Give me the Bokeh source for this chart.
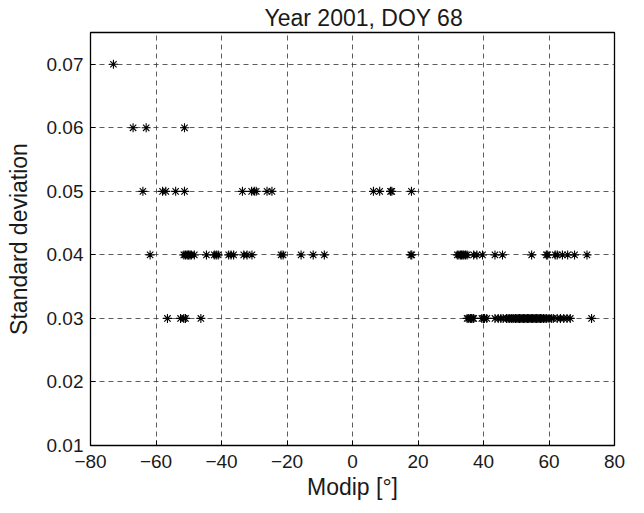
from bokeh.plotting import figure
from bokeh.models import FixedTicker, Range1d, CustomJSTickFormatter
from bokeh.embed import file_html
from bokeh.resources import INLINE

# Data (Modip in degrees, standard deviation)
modip_007 = [-73]
modip_006 = [-67, -63, -51.3]
modip_005 = [-64, -58, -57, -54, -51.3, -33.6, -30.8, -30, -29.4, -26.1, -24.6,
             6.4, 8.3, 11.6, 12, 18]
modip_004 = [-61.8, -51.5, -51, -50.5, -50.2, -50, -49.6, -49.2, -48.3, -44.6,
             -42.2, -41.6, -41, -37.8, -37.1, -36.3, -33.2, -32.2, -30.7,
             -21.8, -21.2, -15.7, -12, -8.6,
             17.8, 18.1,
             32, 32.5, 33, 33.3, 33.7, 34, 34.5, 35, 37, 38, 39.7, 43.5, 45.8,
             54.7, 59.2, 59.6, 61.9, 62.5, 64.1, 65.7, 67.8, 71.6]
modip_003 = [-56.5, -52.5, -51.5, -51, -46.3,
             35, 35.5, 36, 36.3, 36.8, 37, 39.5, 40, 40.3, 41, 43.5, 44.5, 45.3,
             46, 47, 47.5, 48, 48.5, 49, 49.3, 49.8, 50.2, 50.6, 51, 51.4, 51.8,
             52.2, 52.6, 53, 53.4, 53.8, 54.2, 54.6, 55, 55.4, 55.8, 56.2, 56.6,
             57, 57.4, 57.8, 58.3, 58.8, 59.3, 60, 60.7, 61.3, 62.5, 63.5, 64.5,
             65.5, 66.5, 73]
std_levels = [0.07, 0.06, 0.05, 0.04, 0.03]
x_ticks = [-80, -60, -40, -20, 0, 20, 40, 60, 80]
y_ticks = [0.01, 0.02, 0.03, 0.04, 0.05, 0.06, 0.07]

xs, ys = [], []
for lvl, arr in zip(std_levels, [modip_007, modip_006, modip_005, modip_004, modip_003]):
    xs.extend(arr)
    ys.extend([lvl] * len(arr))

FONT = "Liberation Sans"

p = figure(frame_width=524, frame_height=413, output_backend="svg", toolbar_location=None,
           x_range=Range1d(-80, 80), y_range=Range1d(0.01, 0.075),
           min_border_left=90, min_border_right=14, min_border_top=31, min_border_bottom=60,
           title="Year 2001, DOY 68")
p.title.align = "left"
p.title.offset = 174
p.title.standoff = 4
p.title.text_font = FONT
p.title.text_font_size = "23px"
p.title.text_font_style = "normal"
p.title.text_color = "#1a1a1a"

p.scatter(xs, ys, marker="asterisk", size=9, line_color="black", line_width=1.1)

p.xaxis.ticker = FixedTicker(ticks=x_ticks)
p.yaxis.ticker = FixedTicker(ticks=y_ticks)
p.yaxis.formatter = CustomJSTickFormatter(code="return tick.toFixed(2);")
p.xaxis.axis_label = "Modip [°]"
p.yaxis.axis_label = "Standard deviation"
for ax in (p.xaxis[0], p.yaxis[0]):
    ax.axis_label_text_font = FONT
    ax.axis_label_text_font_size = "23px"
    ax.axis_label_text_font_style = "normal"
    ax.axis_label_text_color = "#1a1a1a"
    ax.major_label_text_font = FONT
    ax.major_label_text_font_size = "19px"
    ax.major_label_text_color = "#1a1a1a"
    ax.axis_line_color = None
    ax.major_tick_in = 5
    ax.major_tick_out = 0
    ax.major_tick_line_color = "black"
    ax.minor_tick_line_color = None
p.xaxis.major_label_standoff = 9
p.xaxis.axis_label_standoff = 3
p.yaxis.major_label_standoff = 7
p.yaxis.axis_label_standoff = 12

p.grid.grid_line_color = "#333333"
p.grid.grid_line_dash = "5 4"
p.grid.grid_line_width = 0.8
p.outline_line_color = "black"
p.outline_line_width = 1.3
p.outline_line_alpha = 1

open("out.html", "w").write(file_html(p, INLINE))
